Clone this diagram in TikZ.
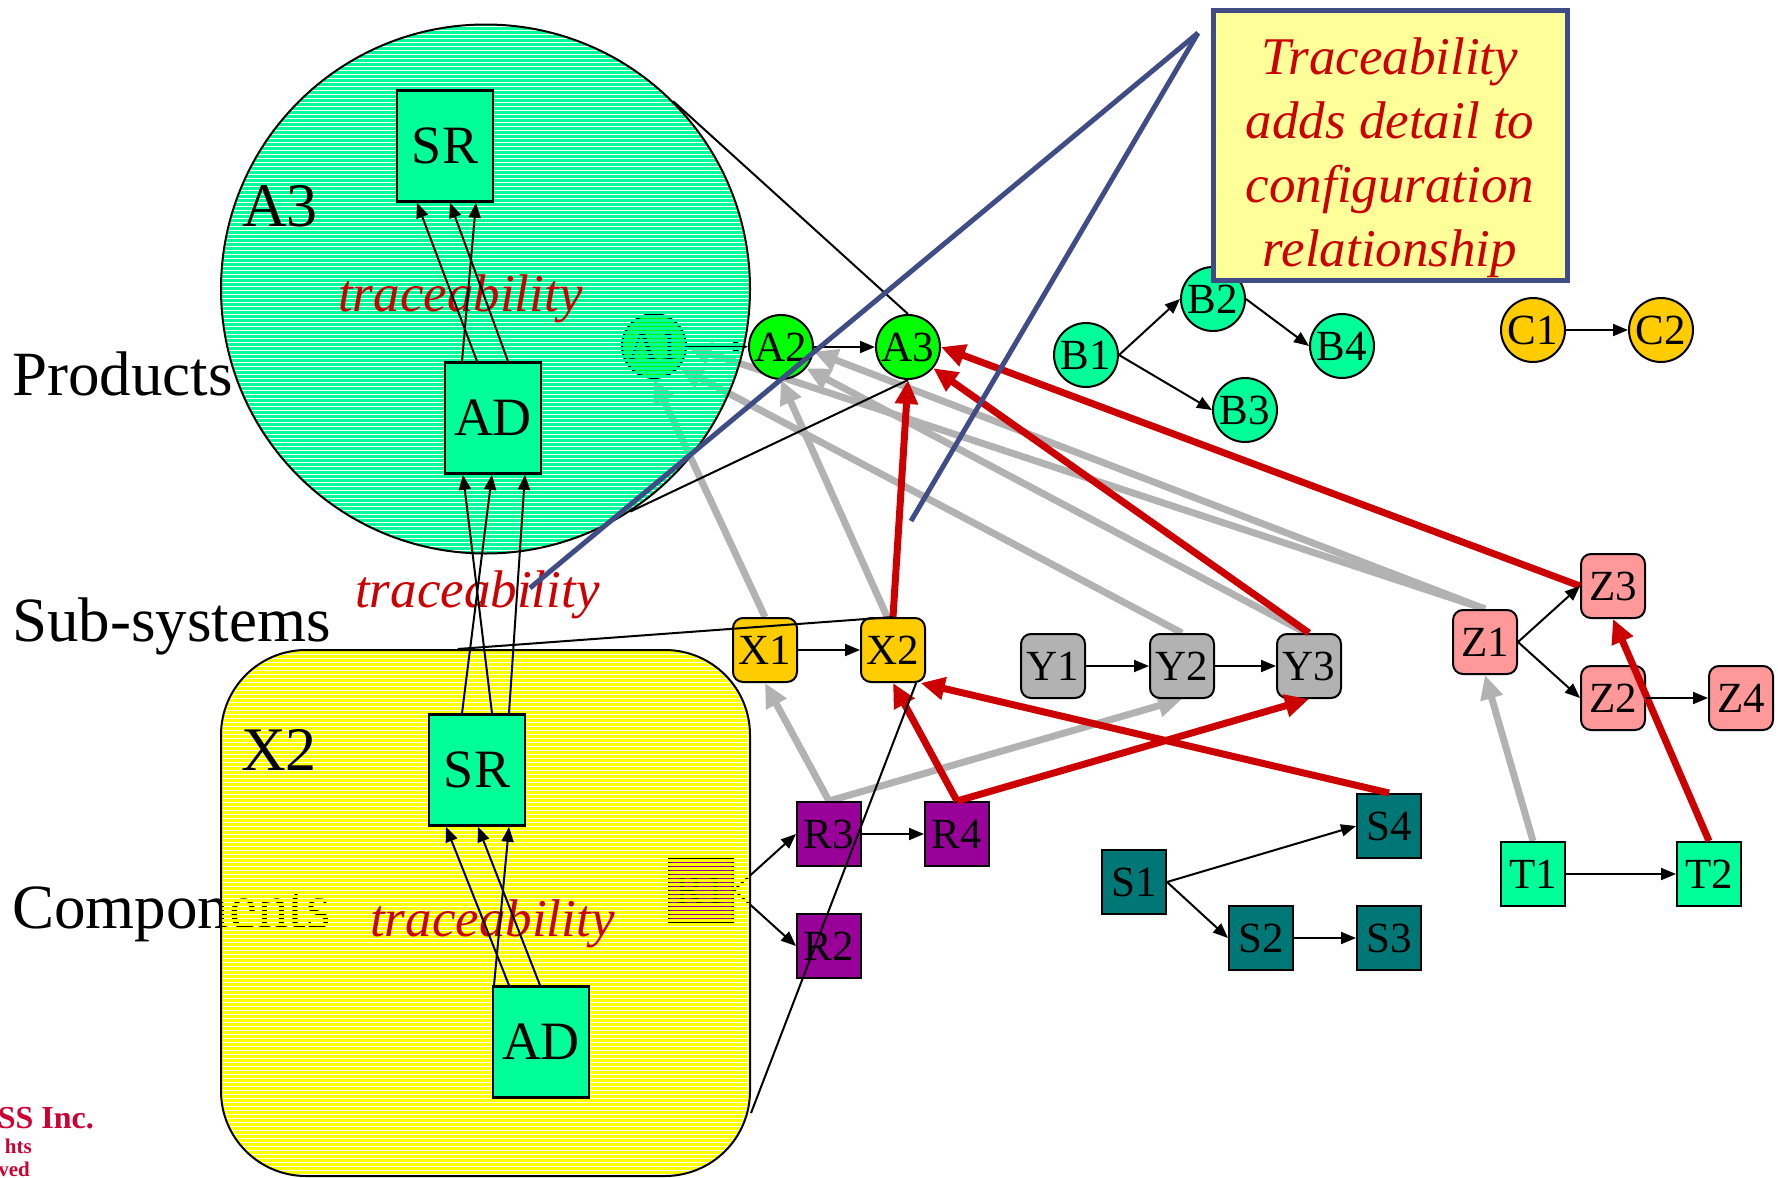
\documentclass[tikz,border=0pt]{standalone}
\usepackage{fontspec}
\setmainfont{Liberation Serif}
\usetikzlibrary{arrows.meta,patterns,backgrounds}
\definecolor{springgreen}{HTML}{00FF99}
\definecolor{brightgreen}{HTML}{00FF00}
\definecolor{goldcol}{HTML}{FFCC00}
\definecolor{greycol}{HTML}{B2B2B2}
\definecolor{pinkcol}{HTML}{FF9999}
\definecolor{plumcol}{HTML}{990099}
\definecolor{tealcol}{HTML}{007777}
\definecolor{tracered}{HTML}{CC0000}
\definecolor{slatecol}{HTML}{3F4C86}
\definecolor{notecol}{HTML}{FFFF99}
\definecolor{crimsoncol}{HTML}{CC0033}
\definecolor{yellowcol}{HTML}{FFFF00}
\pgfdeclarepatternformonly{hstripes}{\pgfpoint{-1pt}{-1pt}}{\pgfpoint{5pt}{5pt}}{\pgfpoint{4pt}{4pt}}{%
  \pgfpathrectangle{\pgfpoint{-0.5pt}{0pt}}{\pgfpoint{5pt}{3pt}}%
  \pgfusepath{fill}}
\begin{document}
\begin{tikzpicture}[x=1pt,y=-1pt,
  vnode/.style={draw, circle, line width=2pt, minimum size=64pt, inner sep=0pt, font=\fontsize{43}{43}\selectfont},
  cnode/.style={draw, rectangle, line width=2pt, minimum size=64pt, inner sep=0pt, font=\fontsize{43}{43}\selectfont},
  snode/.style={cnode, rounded corners=10pt},
  dbox/.style={draw, rectangle, line width=2.5pt, fill=springgreen, minimum width=96pt, minimum height=111pt, inner sep=0pt, font=\fontsize{54}{54}\selectfont},
  tier/.style={anchor=base west, inner sep=0pt, font=\fontsize{63}{63}\selectfont},
  biglabel/.style={anchor=base west, inner sep=0pt, font=\fontsize{62}{62}\selectfont},
  tracelabel/.style={anchor=base west, inner sep=0pt, text=tracered, font=\fontsize{53}{53}\selectfont\itshape},
  zoomcircle/.style={draw, circle, line width=2pt, pattern=hstripes, pattern color=springgreen, minimum size=529pt, inner sep=0pt},
  zoombox/.style={draw, rectangle, rounded corners=85pt, line width=2pt, pattern=hstripes, pattern color=yellowcol, minimum width=529pt, minimum height=526pt, inner sep=0pt},
  notebox/.style={draw=slatecol, line width=5pt, fill=notecol, minimum width=354pt, minimum height=270pt, inner sep=0pt},
  notetext/.style={align=center, inner sep=0pt, text=tracered, font=\fontsize{53}{64}\selectfont\itshape},
  rights/.style={anchor=base east, inner sep=0pt, text=crimsoncol},
  link/.style={line width=2pt, -{Triangle[length=15pt,width=12pt]}},
  greytrace/.style={line width=7pt, draw=greycol, -{Triangle[length=24pt,width=22pt]}},
  redtrace/.style={line width=7pt, draw=tracered, -{Triangle[length=24pt,width=22pt]}},
  zoomline/.style={line width=2pt},
  noteline/.style={line width=5pt, draw=slatecol}]
\useasboundingbox (0,0) rectangle (1778,1178);
\draw (781,347) node[vnode, fill=brightgreen] (A2) {A2};
\draw (908,347) node[vnode, fill=brightgreen] (A3) {A3};
\draw (1086,355) node[vnode, fill=springgreen] (B1) {B1};
\draw (1213,299) node[vnode, fill=springgreen] (B2) {B2};
\draw (1245,410) node[vnode, fill=springgreen] (B3) {B3};
\draw (1342,346) node[vnode, fill=springgreen] (B4) {B4};
\draw (1533,330) node[vnode, fill=goldcol] (C1) {C1};
\draw (1661,330) node[vnode, fill=goldcol] (C2) {C2};
\draw (765,650) node[snode, fill=goldcol] (X1) {X1};
\draw (893,650) node[snode, fill=goldcol] (X2) {X2};
\draw (1053,666) node[snode, fill=greycol] (Y1) {Y1};
\draw (1182,666) node[snode, fill=greycol] (Y2) {Y2};
\draw (1309,666) node[snode, fill=greycol] (Y3) {Y3};
\draw (1485,642) node[snode, fill=pinkcol] (Z1) {Z1};
\draw (1613,586) node[snode, fill=pinkcol] (Z3) {Z3};
\draw (1613,698) node[snode, fill=pinkcol] (Z2) {Z2};
\draw (1741,698) node[snode, fill=pinkcol] (Z4) {Z4};
\draw (829,834) node[cnode, fill=plumcol] (R3) {R3};
\draw (957,834) node[cnode, fill=plumcol] (R4) {R4};
\draw (829,946) node[cnode, fill=plumcol] (R2) {R2};
\draw (1134,882) node[cnode, fill=tealcol] (S1) {S1};
\draw (1389,826) node[cnode, fill=tealcol] (S4) {S4};
\draw (1261,938) node[cnode, fill=tealcol] (S2) {S2};
\draw (1389,938) node[cnode, fill=tealcol] (S3) {S3};
\draw (1533,874) node[cnode, fill=springgreen] (T1) {T1};
\draw (1709,874) node[cnode, fill=springgreen] (T2) {T2};
\begin{pgfonlayer}{background}
\draw (12,928) node[tier] (components) {Components};
\draw (654,346) node[vnode, fill=brightgreen] (A1) {A1};
\draw (701,890) node[cnode, fill=plumcol] (R1) {R1};
\draw[greytrace] (X1.north) -- (A1.south);
\draw[greytrace] (X2.100) -- (A2.south);
\draw[greytrace] (Y2.north) -- (A1.-40);
\draw[greytrace] (Y3.95) -- (A2.-40);
\draw[greytrace] (Z1.north) -- (A2.-8);
\draw[greytrace] (Z1.north) -- (A1.east);
\draw[greytrace] (R3.north) -- (X1.south);
\draw[greytrace] (R3.north) -- (Y2.south);
\draw[greytrace] (T1.north) -- (Z1.south);
\draw[link] (A1) -- (A2);
\draw[link] (R1.east) -- (R3.west);
\draw[link] (R1.east) -- (R2.west);
\draw (485.5,289) node[zoomcircle] (bigA3) {};
\draw (485.5,913) node[zoombox] (bigX2) {};
\end{pgfonlayer}
\draw (12,395) node[tier] (products) {Products};
\draw (12,641) node[tier] (subsystems) {Sub-systems};
\draw (242,226) node[biglabel] (A3label) {A3};
\draw (241,770) node[biglabel] (X2label) {X2};
\draw (338,311) node[tracelabel] (traceA) {traceability};
\draw (355,607) node[tracelabel] (traceB) {traceability};
\draw (370,936) node[tracelabel] (traceC) {traceability};
\draw (445,146) node[dbox] (SRtop) {SR};
\draw (493,418) node[dbox] (ADtop) {AD};
\draw (477,770) node[dbox] (SRbot) {SR};
\draw (541,1042) node[dbox] (ADbot) {AD};
\draw[link] ([xshift=-31pt]ADtop.north) -- ([xshift=31pt]SRtop.south);
\draw[link] ([xshift=-16pt]ADtop.north) -- ([xshift=-28pt]SRtop.south);
\draw[link] ([xshift=15pt]ADtop.north) -- ([xshift=5pt]SRtop.south);
\draw[link] ([xshift=-15pt]SRbot.north) -- ([xshift=-1pt]ADtop.south);
\draw[link] ([xshift=15pt]SRbot.north) -- ([xshift=-30pt]ADtop.south);
\draw[link] ([xshift=32pt]SRbot.north) -- ([xshift=32pt]ADtop.south);
\draw[link] ([xshift=-47pt]ADbot.north) -- ([xshift=32pt]SRbot.south);
\draw[link] ([xshift=-32pt]ADbot.north) -- ([xshift=-31pt]SRbot.south);
\draw[link] ([xshift=-1pt]ADbot.north) -- ([xshift=1pt]SRbot.south);
\draw[redtrace] (X2.north) -- (A3.south);
\draw[redtrace] (Y3.north) -- (A3.-40);
\draw[redtrace] (Z3.west) -- (A3.east);
\draw[redtrace] (R4.north) -- (X2.south);
\draw[redtrace] (R4.north) -- (Y3.south);
\draw[redtrace] (S4.north) -- (X2.-50);
\draw[redtrace] (T2.north) -- (Z3.south);
\draw[link] (A2) -- (A3);
\draw[link] (B1.east) -- (B2.west);
\draw[link] (B1.east) -- (B3.west);
\draw[link] (B2.east) -- (B4.west);
\draw[link] (C1) -- (C2);
\draw[link] (X1) -- (X2);
\draw[link] (Y1) -- (Y2);
\draw[link] (Y2) -- (Y3);
\draw[link] (Z1.east) -- (Z3.west);
\draw[link] (Z1.east) -- (Z2.west);
\draw[link] (Z2) -- (Z4);
\draw[link] (R3) -- (R4);
\draw[link] (S1.east) -- (S4.west);
\draw[link] (S1.east) -- (S2.west);
\draw[link] (S2) -- (S3);
\draw[link] (T1) -- (T2);
\draw[zoomline] (bigA3.45) -- (A3.north);
\draw[zoomline] (bigA3.-57) -- (A3.south);
\draw[zoomline] (bigX2.96) -- (X2.north);
\draw[zoomline] (bigX2.-37) -- (X2.-55);
\coordinate (tip) at (1198,33);
\coordinate (tipA) at (530,588);
\coordinate (tipB) at (911,521);
\draw[noteline] (tip) -- (tipA);
\draw[noteline] (tip) -- (tipB);
\draw (1390.5,145.5) node[notebox] (note) {};
\draw (1390,158) node[notetext] (notetxt) {Traceability\\adds detail to\\configuration\\relationship};
\draw (94,1128) node[rights, font=\fontsize{32}{32}\selectfont\bfseries] (copyA) {SS Inc.};
\draw (32,1153) node[rights, font=\fontsize{21}{21}\selectfont\bfseries] (copyB) {hts};
\draw (30,1176) node[rights, font=\fontsize{21}{21}\selectfont\bfseries] (copyC) {ved};
\end{tikzpicture}
\end{document}
